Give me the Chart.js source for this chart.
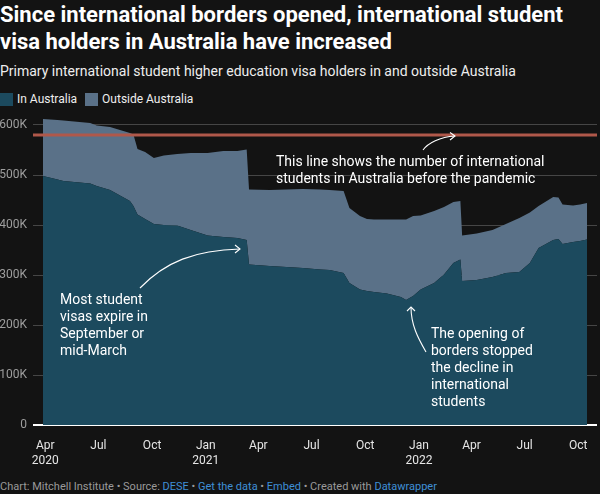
<!DOCTYPE html>
<html>
<head>
<meta charset="utf-8">
<script src="https://cdn.jsdelivr.net/npm/chart.js@4"></script>
<style>
  body { margin: 0; background: #131313; width: 600px; height: 494px; overflow: hidden; position: relative; font-family: Roboto, sans-serif; color: #fff; }
  #title { position: absolute; left: 0; top: 1px; font-size: 22px; font-weight: 700; line-height: 27px; }
  #sub { position: absolute; left: 0; top: 63px; font-size: 14px; color: #eee; }
  #legend { position: absolute; left: 0; top: 92px; font-size: 12px; color: #eee; display: flex; align-items: center; }
  #legend span.sw { display: inline-block; width: 13px; height: 13px; margin-right: 4px; }
  #legend span.item { margin-right: 8px; display: flex; align-items: center; }
  #foot { position: absolute; left: 0; top: 480px; font-size: 11px; color: #9a9a9a; }
  #foot a { color: #3f8fd6; text-decoration: none; }
  #wrap { position: absolute; left: 0; top: 110px; width: 600px; height: 355px; }
</style>
</head>
<body>
<div id="title">Since international borders opened, international student<br>visa holders in Australia have increased</div>
<div id="sub">Primary international student higher education visa holders in and outside Australia</div>
<div id="legend">
  <span class="item"><span class="sw" style="background:#1c4a5e"></span>In Australia</span>
  <span class="item"><span class="sw" style="background:#5a7188"></span>Outside Australia</span>
</div>
<div id="wrap"><canvas id="chart" width="600" height="355"></canvas></div>
<div id="foot">Chart: Mitchell Institute • Source: <a>DESE</a> • <a>Get the data</a> • <a>Embed</a> • Created with <a>Datawrapper</a></div>

<script>
// snapshot dates
const dates = [
  "2020-03-28", "2020-04-22", "2020-05-02", "2020-06-17", "2020-06-28", "2020-07-21",
  "2020-08-07", "2020-08-24", "2020-08-30", "2020-09-06", "2020-09-19", "2020-10-04",
  "2020-10-21", "2020-11-13", "2020-12-06", "2021-01-04", "2021-01-31", "2021-02-24",
  "2021-03-12", "2021-03-16", "2021-04-20", "2021-05-19", "2021-06-16", "2021-07-16",
  "2021-08-01", "2021-08-25", "2021-09-04", "2021-09-22", "2021-10-04", "2021-10-16",
  "2021-11-07", "2021-12-01", "2021-12-10", "2021-12-22", "2022-01-04", "2022-01-27",
  "2022-02-13", "2022-03-01", "2022-03-13", "2022-03-16", "2022-04-10", "2022-05-07",
  "2022-05-30", "2022-06-22", "2022-07-10", "2022-07-25", "2022-08-19", "2022-08-28",
  "2022-09-04", "2022-09-22", "2022-10-04", "2022-10-16"
];
// visa holders, thousands
const inAustralia = [
  498, 491, 488, 483, 478, 470, 459, 448, 438, 421, 412, 402,
  400, 399, 390, 379, 376, 374, 370, 321, 318, 316, 314, 311,
  310, 304, 284, 271, 268, 266, 263, 256, 250, 258, 271, 284,
  301, 324, 331, 288, 290, 296, 304, 306, 324, 354, 370, 372,
  362, 366, 368, 371
];
const outsideAustralia = [
  114, 119, 121, 121, 121, 126, 131, 136, 143, 131, 134, 132,
  139, 143, 154, 165, 172, 174, 181, 150, 152, 155, 158, 160,
  160, 164, 150, 147, 144, 145, 148, 155, 161, 160, 148, 144,
  135, 122, 117, 91, 93, 94, 98, 108, 101, 84, 86, 83,
  79, 73, 73, 73
];
const preCovidInAustralia = 580;

const xTickDates = ["2020-04-01", "2020-07-01", "2020-10-01", "2021-01-01", "2021-04-01", "2021-07-01",
  "2021-10-01", "2022-01-01", "2022-04-01", "2022-07-01", "2022-10-01"];
const xTickLabels = [["Apr", "2020"], "Jul", "Oct", ["Jan", "2021"], "Apr", "Jul", "Oct", ["Jan", "2022"], "Apr", "Jul", "Oct"];
const yTicks = [0, 100, 200, 300, 400, 500, 600];

const day = s => Date.UTC(+s.slice(0, 4), +s.slice(5, 7) - 1, +s.slice(8, 10)) / 86400000;

const inPts = dates.map((d, i) => ({ x: day(d), y: inAustralia[i] }));
const outPts = dates.map((d, i) => ({ x: day(d), y: outsideAustralia[i] }));

// reference line + notes
const overlay = {
  id: "overlay",
  afterDraw(chart) {
    const { ctx, chartArea: a, scales } = chart;
    const top = 110; // canvas offset on page
    ctx.save();
    const yRef = scales.y.getPixelForValue(preCovidInAustralia);
    ctx.strokeStyle = "#b0584a";
    ctx.lineWidth = 3;
    ctx.beginPath();
    ctx.moveTo(a.left, yRef);
    ctx.lineTo(a.right, yRef);
    ctx.stroke();

    ctx.fillStyle = "#fff";
    ctx.font = "14px Roboto";
    ctx.textBaseline = "middle";
    const note = (x, y, lines) => lines.forEach((l, i) => ctx.fillText(l, x, y - top + i * 17));
    note(276, 162, ["This line shows the number of international", "students in Australia before the pandemic"]);
    note(60, 300, ["Most student", "visas expire in", "September or", "mid-March"]);
    note(431, 334, ["The opening of", "borders stopped", "the decline in", "international", "students"]);

    ctx.strokeStyle = "#fff";
    ctx.lineWidth = 1.1;
    const p = (x, y) => [x, y - top];
    const curve = (s, c1, c2, e, h1, h2) => {
      ctx.beginPath();
      ctx.moveTo(...p(...s));
      ctx.bezierCurveTo(...p(...c1), ...p(...c2), ...p(...e));
      ctx.stroke();
      ctx.beginPath();
      ctx.moveTo(...p(...h1));
      ctx.lineTo(...p(...e));
      ctx.lineTo(...p(...h2));
      ctx.stroke();
    };
    curve([423, 150], [428, 143], [440, 137], [455, 136], [450, 132.5], [450, 140]);
    curve([140, 288], [165, 262], [195, 250], [240, 249], [235, 245], [235, 253]);
    curve([426, 352], [418, 338], [411, 325], [411, 307], [407, 311], [415, 311]);
    ctx.restore();
  }
};

new Chart(document.getElementById("chart"), {
  type: "line",
  data: {
    datasets: [
      { label: "In Australia", data: inPts, backgroundColor: "#1c4a5e", fill: "origin" },
      { label: "Outside Australia", data: outPts, backgroundColor: "#5a7188", fill: "-1" }
    ]
  },
  options: {
    responsive: false,
    animation: false,
    layout: { padding: { top: 5, right: 3, left: 0, bottom: 0 } },
    elements: { line: { borderWidth: 0, tension: 0 }, point: { radius: 0 } },
    plugins: { legend: { display: false }, tooltip: { enabled: false } },
    scales: {
      x: {
        type: "linear",
        min: day("2020-03-11"),
        max: day("2022-11-02"),
        grid: { display: false },
        border: { display: false },
        afterBuildTicks: s => { s.ticks = xTickDates.map(d => ({ value: day(d) })); },
        afterFit: s => { s.height = 40; s.paddingLeft = 0; s.paddingRight = 0; },
        ticks: {
          autoSkip: false,
          maxRotation: 0,
          padding: 6,
          color: "#e6e6e6",
          font: { family: "Roboto", size: 12 },
          callback: (v, i) => xTickLabels[i]
        }
      },
      y: {
        stacked: true,
        min: 0,
        max: 620,
        z: 1,
        border: { display: false },
        afterBuildTicks: s => { s.ticks = yTicks.map(v => ({ value: v })); },
        afterFit: s => { s.width = 33; s.paddingTop = 0; s.paddingBottom = 0; },
        grid: {
          drawTicks: false,
          color: c => c.tick && c.tick.value === 0 ? "#ffffff" : "rgba(255,255,255,0.22)",
          lineWidth: c => c.tick && c.tick.value === 0 ? 2 : 1
        },
        ticks: {
          padding: 6,
          color: "#9e9e9e",
          font: { family: "Roboto", size: 12 },
          callback: v => v === 0 ? "0" : v + "K"
        }
      }
    }
  },
  plugins: [overlay]
});
</script>
</body>
</html>
